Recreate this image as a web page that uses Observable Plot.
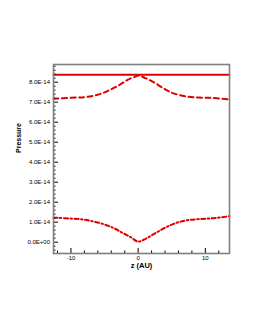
<!DOCTYPE html>
<html>
<head>
<meta charset="utf-8">
<script src="https://cdn.jsdelivr.net/npm/d3@7"></script>
<script src="https://cdn.jsdelivr.net/npm/@observablehq/plot@0.6"></script>
<style>
  html, body { margin: 0; padding: 0; background: #fff; }
</style>
</head>
<body>
<div id="chart"></div>
<script>
// Solid line
const zSolid = [-12.6, 13.6];
const pSolid = [8.37e-14, 8.37e-14];

// Dashed line
const zDashed = [-12.6, -10, -8, -6.6, -5.3, -4.0, -2.7, -1.5, -0.4, 0, 1.1, 2.3, 3.6, 4.8, 6.0, 7.5, 9.0, 10.5, 11.7, 13.6];
const pDashed = [7.17e-14, 7.22e-14, 7.25e-14, 7.32e-14, 7.45e-14, 7.65e-14, 7.88e-14, 8.13e-14, 8.28e-14, 8.33e-14, 8.2e-14, 8.0e-14, 7.73e-14, 7.5e-14, 7.37e-14, 7.27e-14, 7.23e-14, 7.22e-14, 7.2e-14, 7.13e-14];

// Dash-dot line
const zDashDot = [-12.6, -12, -10, -8.1, -6.6, -5.1, -3.6, -2.4, -1.1, 0, 1.1, 2.3, 3.6, 4.8, 6.0, 7.3, 8.8, 10.3, 11.7, 13.6];
const pDashDot = [1.22e-14, 1.22e-14, 1.18e-14, 1.13e-14, 1.03e-14, 0.9e-14, 0.7e-14, 0.48e-14, 0.25e-14, 0.03e-14, 0.17e-14, 0.4e-14, 0.65e-14, 0.85e-14, 1.0e-14, 1.1e-14, 1.15e-14, 1.18e-14, 1.22e-14, 1.3e-14];

// Axes
const xMajor = [-10, 0, 10];
const xMajorLabels = ["-10", "0", "10"];
const xMinor = [-12, -8, -6, -4, -2, 2, 4, 6, 8, 12];
const yMajor = [0, 1e-14, 2e-14, 3e-14, 4e-14, 5e-14, 6e-14, 7e-14, 8e-14];
const yMajorLabels = ["0.0E+00", "1.0E-14", "2.0E-14", "3.0E-14", "4.0E-14", "5.0E-14", "6.0E-14", "7.0E-14", "8.0E-14"];
const yMinor = d3.range(-2, 45).map(i => i * 0.2e-14).filter(v => Math.abs(v / 1e-14 - Math.round(v / 1e-14)) > 1e-6);
const xDomain = [-12.6, 13.6];
const yDomain = [-0.565e-14, 8.885e-14];
const xTitle = "z (AU)";
const yTitle = "Pressure";

const toRows = (zs, ps) => zs.map((z, i) => ({z, p: ps[i]}));
const red = "#dd0000";
const xFmt = d => xMajorLabels[xMajor.indexOf(d)];
const yFmt = d => yMajorLabels[yMajor.indexOf(d)];

const chart = Plot.plot({
  width: 255,
  height: 330,
  marginLeft: 53,
  marginRight: 26,
  marginTop: 64,
  marginBottom: 77,
  style: {fontFamily: "'Liberation Sans', Arial, sans-serif", fontSize: "6px", background: "#fff"},
  x: {domain: xDomain},
  y: {domain: yDomain},
  marks: [
    Plot.line(toRows(zSolid, pSolid), {x: "z", y: "p", stroke: red, strokeWidth: 2}),
    Plot.line(toRows(zDashed, pDashed), {x: "z", y: "p", stroke: red, strokeWidth: 2, strokeDasharray: "5,3.5", curve: "catmull-rom"}),
    Plot.line(toRows(zDashDot, pDashDot), {x: "z", y: "p", stroke: red, strokeWidth: 2, strokeDasharray: "4,2.5,1.5,2.5", curve: "catmull-rom"}),
    Plot.axisX(xMajor, {tickSize: -5, tickFormat: () => "", stroke: "#000", label: null}),
    Plot.axisX(xMinor, {tickSize: -2.5, tickFormat: () => "", stroke: "#000", label: null}),
    Plot.axisX(xMajor, {tickSize: 0, tickPadding: 2, tickFormat: xFmt, fill: "#000", label: null}),
    Plot.axisY(yMajor, {tickSize: -5, tickFormat: () => "", stroke: "#000", label: null}),
    Plot.axisY(yMinor, {tickSize: -2.5, tickFormat: () => "", stroke: "#000", label: null}),
    Plot.axisY(yMajor, {tickSize: 0, tickPadding: 3.5, tickFormat: yFmt, fill: "#000", label: null}),
    Plot.frame({stroke: "#808080", strokeWidth: 1.6}),
    Plot.text([xTitle], {frameAnchor: "bottom", dy: 14.5, fontWeight: "bold", fontSize: 7.5, fill: "#000"}),
    Plot.text([yTitle], {frameAnchor: "left", dx: -35, dy: -6, rotate: -90, fontWeight: "bold", fontSize: 7, fill: "#000"})
  ]
});
document.getElementById("chart").appendChild(chart);
</script>
</body>
</html>
